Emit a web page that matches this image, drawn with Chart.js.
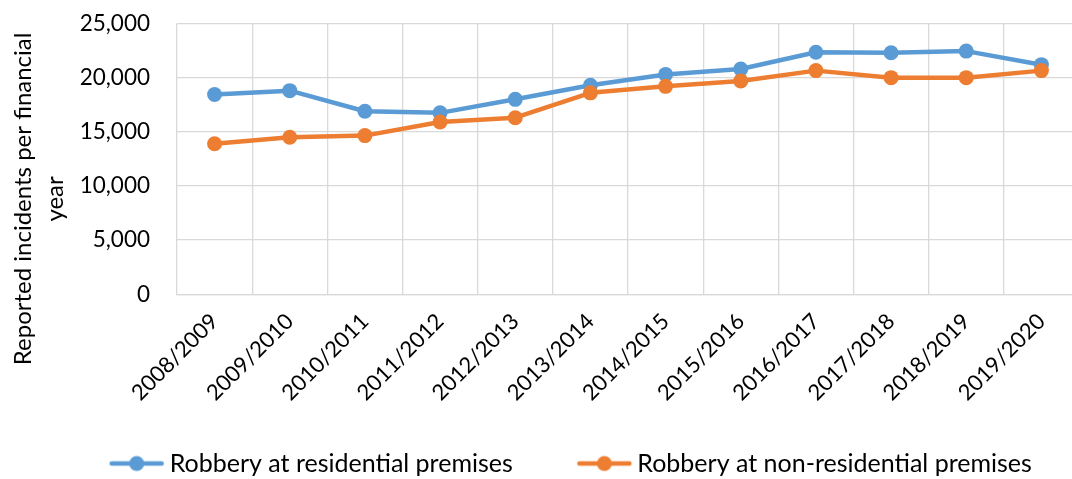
<!DOCTYPE html>
<html><head><meta charset="utf-8">
<script src="https://cdn.jsdelivr.net/npm/chart.js@4/dist/chart.umd.min.js"></script>
<style>
html,body{margin:0;padding:0;overflow:hidden;background:#fff;width:1072px;height:479px}
#wrap{position:absolute;left:0;top:-17px;width:1088px;height:503px}
</style></head><body>
<div id="wrap"><canvas id="c" width="1088" height="503" style="width:1088px;height:503px"></canvas></div>
<script>
const categories = ['2008/2009','2009/2010','2010/2011','2011/2012','2012/2013','2013/2014','2014/2015','2015/2016','2016/2017','2017/2018','2018/2019','2019/2020'];
const residential = [18450, 18800, 16900, 16750, 18000, 19300, 20300, 20800, 22350, 22300, 22450, 21200];
const nonResidential = [13900, 14500, 14650, 15900, 16300, 18600, 19200, 19700, 20650, 20000, 20000, 20650];
const seriesNames = ['Robbery at residential premises', 'Robbery at non-residential premises'];
const yMin = 0, yMax = 25000, yStep = 5000;
const yTitleLines = ['Reported incidents per financial', 'year'];
const colors = ['#5B9BD5', '#ED7D31'];

const FONT = 'Lato';
const SHIFT = 17;
const BOX = 110, EXT = 8.5, LINE_LEN = 56;

function legendIcon(color) {
  const cv = document.createElement('canvas');
  cv.width = BOX + 2 * EXT; cv.height = 18;
  const g = cv.getContext('2d');
  const x1 = cv.width - 2, x0 = x1 - LINE_LEN + 4;
  g.strokeStyle = color; g.lineWidth = 4.5; g.lineCap = 'round';
  g.beginPath(); g.moveTo(x0, 9); g.lineTo(x1 - 2, 9); g.stroke();
  g.fillStyle = color; g.beginPath(); g.arc((x0 + x1) / 2 - 1, 9, 7.5, 0, Math.PI * 2); g.fill();
  return cv;
}

const yTitlePlugin = {
  id: 'yTitle',
  afterDraw(chart) {
    const ctx = chart.ctx;
    const area = chart.chartArea;
    ctx.save();
    ctx.fillStyle = '#000';
    ctx.font = '24px ' + FONT;
    ctx.textAlign = 'center';
    ctx.textBaseline = 'alphabetic';
    const baselines = [31, 63];
    const cy = area.top + (area.bottom - area.top) / 2 + 40;
    yTitleLines.forEach((t, i) => {
      ctx.save();
      ctx.translate(baselines[i], cy);
      ctx.rotate(-Math.PI / 2);
      ctx.fillText(t, 0, 0);
      ctx.restore();
    });
    ctx.restore();
  }
};

const mk = (label, data, color, order) => ({
  label, data, borderColor: color, backgroundColor: color,
  borderWidth: 4.5, pointRadius: 7.5, pointHoverRadius: 7.5, pointBorderWidth: 0,
  pointBackgroundColor: color, tension: 0, order, borderCapStyle: 'round', borderJoinStyle: 'round'
});

new Chart(document.getElementById('c'), {
  type: 'line',
  data: {
    labels: categories,
    datasets: [mk(seriesNames[0], residential, colors[0], 1), mk(seriesNames[1], nonResidential, colors[1], 0)]
  },
  options: {
    responsive: false, animation: false, devicePixelRatio: 1,
    layout: { padding: { left: 0, right: 9, top: 6, bottom: 0 } },
    plugins: {
      tooltip: { enabled: false },
      legend: {
        position: 'bottom',
        labels: {
          usePointStyle: true, pointStyleWidth: BOX, padding: 2,
          color: '#000', font: { family: FONT, size: 25 },
          generateLabels(chart) {
            return chart.data.datasets.map((ds, i) => ({
              text: ds.label, pointStyle: legendIcon(ds.borderColor),
              fillStyle: ds.borderColor, strokeStyle: ds.borderColor, lineWidth: 0,
              hidden: false, datasetIndex: i, fontColor: '#000'
            }));
          }
        }
      }
    },
    scales: {
      x: {
        offset: true,
        grid: { offset: true, color: '#d9d9d9', lineWidth: 1.3, drawTicks: false },
        border: { color: '#d9d9d9', width: 1.3 },
        ticks: { autoSkip: false, maxRotation: 45, minRotation: 45, padding: 14, color: '#000', font: { family: FONT, size: 22 } },
        afterFit(s) { s.height = 154.7; }
      },
      y: {
        min: yMin, max: yMax,
        grid: { color: '#d9d9d9', lineWidth: 1.3, drawTicks: false },
        border: { display: false },
        ticks: { stepSize: yStep, padding: 27, color: '#000', font: { family: FONT, size: 22.5 },
          callback: v => v.toLocaleString('en-US') },
        afterFit(s) { s.width = 177; }
      }
    }
  },
  plugins: [yTitlePlugin]
});
</script>
</body></html>
